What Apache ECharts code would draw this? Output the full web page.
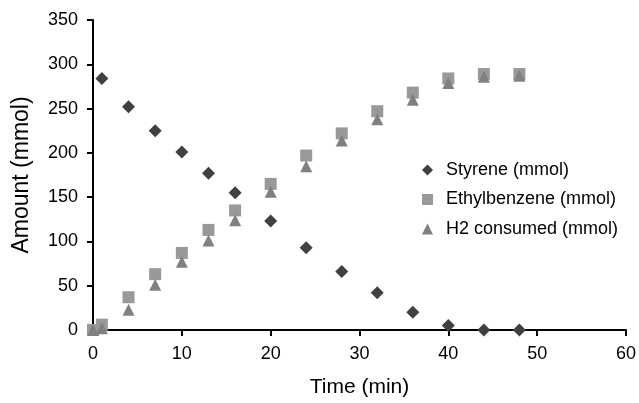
<!DOCTYPE html>
<html><head><meta charset="utf-8">
<script src="https://cdn.jsdelivr.net/npm/echarts@6/dist/echarts.min.js"></script>
<style>html,body{margin:0;padding:0;background:#fff}#c{width:639px;height:403px}</style>
</head><body><div id="c"></div>
<script>
const styreneTime = [1, 4, 7, 10, 13, 16, 20, 24, 28, 32, 36, 40, 44, 48];
const styreneVals = [284, 252, 225, 201, 177, 155, 123, 93, 66, 42, 20, 5, 0, 0];
const ebTime = [0, 1, 4, 7, 10, 13, 16, 20, 24, 28, 32, 36, 40, 44, 48];
const ebVals = [0, 6, 37, 63, 87, 113, 135, 165, 197, 222, 247, 268, 284, 289, 289];
const h2Time = [0, 1, 4, 7, 10, 13, 16, 20, 24, 28, 32, 36, 40, 44, 48];
const h2Vals = [0, 2, 23, 51, 77, 101, 124, 156, 185, 214, 238, 260, 279, 286, 287];
const seriesNames = ['Styrene (mmol)', 'Ethylbenzene (mmol)', 'H2 consumed (mmol)'];
const zip = (a, b) => a.map((x, i) => [x, b[i]]);
const font = 'Liberation Sans, Arial, sans-serif';
const chart = echarts.init(document.getElementById('c'));
chart.setOption({
  animation: false,
  grid: {left: 93, right: 10, top: 20, bottom: 70},
  legend: {
    orient: 'vertical', left: 417, top: 156, itemGap: 11.5, itemWidth: 11, itemHeight: 11,
    textStyle: {fontFamily: font, fontSize: 18, color: '#000', padding: [0, 0, 0, 8]},
    data: [
      {name: seriesNames[0], icon: 'diamond'},
      {name: seriesNames[1], icon: 'rect'},
      {name: seriesNames[2], icon: 'triangle'}
    ]
  },
  xAxis: {
    type: 'value', min: 0, max: 60, interval: 10,
    name: 'Time (min)', nameLocation: 'middle', nameGap: 47,
    nameTextStyle: {fontFamily: font, fontSize: 21, color: '#000'},
    axisLine: {lineStyle: {color: '#000', width: 2}},
    axisTick: {show: true, length: 6, lineStyle: {color: '#000', width: 2}},
    axisLabel: {fontFamily: font, fontSize: 18, color: '#000', margin: 15},
    splitLine: {show: false}
  },
  yAxis: {
    type: 'value', min: 0, max: 350, interval: 50,
    name: 'Amount (mmol)', nameLocation: 'middle', nameGap: 60,
    nameTextStyle: {fontFamily: font, fontSize: 23, color: '#000'},
    axisLine: {show: true, lineStyle: {color: '#000', width: 2}},
    axisTick: {show: true, length: 6, lineStyle: {color: '#000', width: 2}},
    axisLabel: {fontFamily: font, fontSize: 18, color: '#000', margin: 15},
    splitLine: {show: false}
  },
  series: [
    {name: seriesNames[0], type: 'scatter', symbol: 'diamond', symbolSize: 13,
     itemStyle: {color: '#404040', opacity: 1}, data: zip(styreneTime, styreneVals), z: 3},
    {name: seriesNames[1], type: 'scatter', symbol: 'rect', symbolSize: 12,
     itemStyle: {color: '#999999', opacity: 1}, data: zip(ebTime, ebVals), z: 2},
    {name: seriesNames[2], type: 'scatter', symbol: 'triangle', symbolSize: 12,
     itemStyle: {color: '#808080', opacity: 1}, data: zip(h2Time, h2Vals), z: 4}
  ]
});
</script></body></html>
